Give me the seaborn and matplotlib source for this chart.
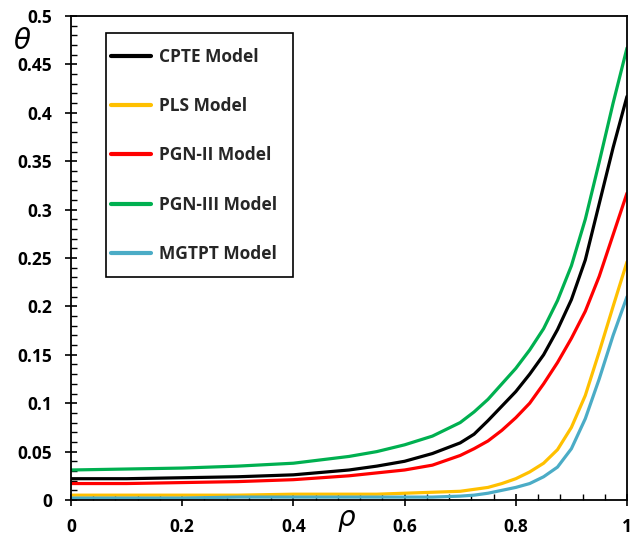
import matplotlib
matplotlib.use("Agg")
import matplotlib.pyplot as plt
import seaborn as sns
import pandas as pd
from matplotlib.ticker import MultipleLocator, FuncFormatter
from matplotlib.patches import Rectangle
from matplotlib.lines import Line2D

rho = [0, 0.1, 0.2, 0.3, 0.4, 0.5, 0.55, 0.6, 0.65, 0.7, 0.725, 0.75, 0.775, 0.8, 0.825, 0.85, 0.875, 0.9, 0.925, 0.95, 0.975, 1.0]
cpte  = [0.022, 0.022, 0.023, 0.024, 0.026, 0.031, 0.035, 0.040, 0.048, 0.059, 0.068, 0.082, 0.097, 0.112, 0.130, 0.150, 0.176, 0.207, 0.248, 0.306, 0.364, 0.417]
pls   = [0.005, 0.005, 0.005, 0.005, 0.006, 0.006, 0.006, 0.007, 0.008, 0.009, 0.011, 0.013, 0.017, 0.022, 0.029, 0.038, 0.052, 0.075, 0.108, 0.153, 0.200, 0.246]
pgn2  = [0.017, 0.017, 0.018, 0.019, 0.021, 0.025, 0.028, 0.031, 0.036, 0.046, 0.053, 0.061, 0.072, 0.085, 0.100, 0.120, 0.142, 0.167, 0.195, 0.231, 0.274, 0.317]
pgn3  = [0.031, 0.032, 0.033, 0.035, 0.038, 0.045, 0.050, 0.057, 0.066, 0.080, 0.091, 0.104, 0.120, 0.136, 0.155, 0.177, 0.206, 0.242, 0.290, 0.349, 0.410, 0.467]
mgtpt = [0.002, 0.002, 0.002, 0.003, 0.003, 0.003, 0.003, 0.003, 0.003, 0.004, 0.005, 0.007, 0.010, 0.013, 0.017, 0.024, 0.034, 0.053, 0.084, 0.125, 0.170, 0.210]

labels = ["CPTE Model", "PLS Model", "PGN-II Model", "PGN-III Model", "MGTPT Model"]
colors = ["#000000", "#FFC000", "#FF0000", "#00B050", "#4BACC6"]
series = [cpte, pls, pgn2, pgn3, mgtpt]

rows = []
for lab, vals in zip(labels, series):
    for x, y in zip(rho, vals):
        rows.append({"rho": x, "theta": y, "model": lab})
df = pd.DataFrame(rows)

sns.set_style("ticks")
plt.rcParams['font.family'] = ['Open Sans', 'DejaVu Sans']

W, H = 638, 540
fig = plt.figure(figsize=(W/100, H/100), dpi=100)
ax = fig.add_axes([71/W, 1-500/H, (627-71)/W, (500-16)/H])

sns.lineplot(data=df, x="rho", y="theta", hue="model", hue_order=labels,
             palette=dict(zip(labels, colors)), linewidth=2.3, ax=ax, legend=False)

ax.set_xlim(0, 1)
ax.set_ylim(0, 0.5)
ax.xaxis.set_major_locator(MultipleLocator(0.2))
ax.xaxis.set_minor_locator(MultipleLocator(0.04))
ax.yaxis.set_major_locator(MultipleLocator(0.05))
ax.yaxis.set_minor_locator(MultipleLocator(0.01))

def fmt(v, pos):
    s = f"{v:.2f}".rstrip("0").rstrip(".")
    return "0" if s in ("0", "-0") else s
ax.xaxis.set_major_formatter(FuncFormatter(fmt))
ax.yaxis.set_major_formatter(FuncFormatter(fmt))

ax.tick_params(which="major", direction="inout", length=8, width=1.2, colors="black",
               labelsize=12.5)
ax.tick_params(axis="x", which="major", pad=9)
ax.tick_params(axis="y", which="major", pad=9.5)
ax.tick_params(which="minor", direction="in", length=4, width=1.0, colors="black")
for lab in ax.get_xticklabels() + ax.get_yticklabels():
    lab.set_fontweight("bold")

for sp in ax.spines.values():
    sp.set_visible(True)
    sp.set_linewidth(1.3)
    sp.set_color("black")

ax.set_xlabel("")
ax.set_ylabel("")
fig.text(22/W, 1-42/H, r"$\theta$", fontsize=20, ha="center", va="center", color="black")
fig.text(347/W, 1-520/H, r"$\rho$", fontsize=20, ha="center", va="center", color="black")

# legend frame box
fig.patches.append(Rectangle((106/W, 1-277/H), (293-106)/W, (277-33)/H,
                             transform=fig.transFigure, fill=True, facecolor="white",
                             edgecolor="black", linewidth=1.2, zorder=5))

handles = [Line2D([], [], color=c, linewidth=3) for c in colors]
leg = fig.legend(handles=handles, labels=labels, loc="upper left",
                 bbox_to_anchor=(111/W, 1-48/H), bbox_transform=fig.transFigure,
                 frameon=False, prop={"weight": "bold", "size": 12.5}, labelspacing=1.8,
                 handlelength=2.3, handletextpad=0.45, borderpad=0, borderaxespad=0)
leg.set_zorder(6)

fig.savefig("out.png", dpi=100)
